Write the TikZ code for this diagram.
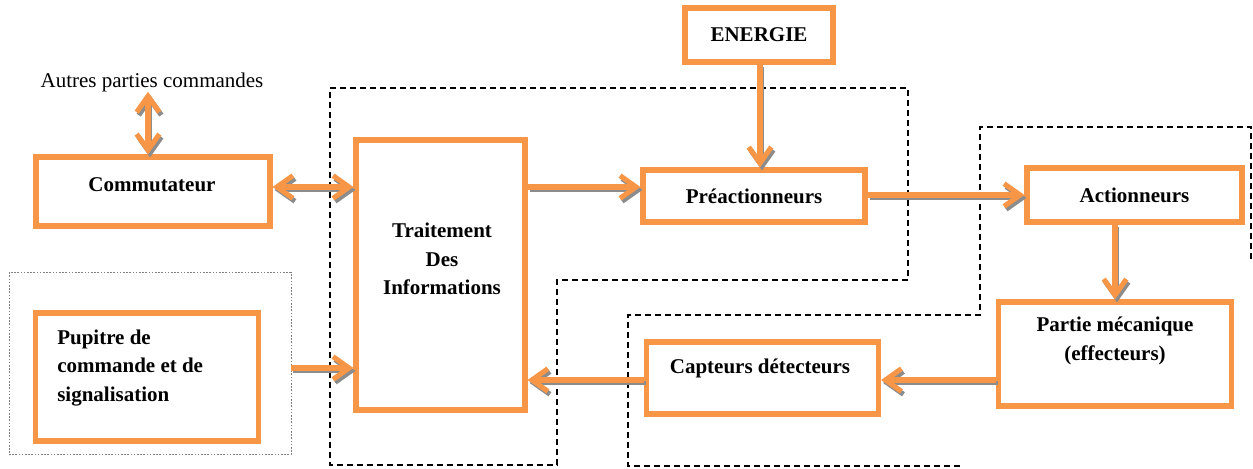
\documentclass[tikz,border=0pt]{standalone}
\usepackage{fontspec}
\setmainfont{Liberation Serif}
\usetikzlibrary{arrows.meta,calc}
\definecolor{orng}{HTML}{F79646}
\definecolor{shd}{HTML}{8C8C8C}
\begin{document}
\begin{tikzpicture}[x=0.75pt,y=-0.75pt,
  box/.style={draw=orng, line width=3.8pt, fill=white, inner sep=0pt, font=\fontsize{15.75}{21}\selectfont\bfseries},
  lbl/.style={inner sep=0pt, font=\fontsize{15.75}{21.5}\selectfont\bfseries, align=center},
  arr/.style={draw=orng, line width=3.8pt, -{Straight Barb[length=12pt,width=17pt,line width=3.8pt]},
    preaction={draw=shd, line width=3pt, transform canvas={shift={(1.5pt,-2.2pt)}}}},
  darr/.style={arr, {Straight Barb[length=12pt,width=17pt,line width=3.8pt]}-{Straight Barb[length=12pt,width=17pt,line width=3.8pt]}},
  zone/.style={draw=black, line width=1.1pt, dash pattern=on 4.5pt off 3pt},
  dotbox/.style={draw=gray, line width=0.6pt, dash pattern=on 1.2pt off 1.2pt, inner sep=0pt}
]
\useasboundingbox (0,0) rectangle (1253,468);
% dashed zones
\draw[zone] (330,88) -- (908,88) -- (908,280) -- (557,280) -- (557,465) -- (330,465) -- cycle;
\draw[zone] (960,466) -- (628,466) -- (628,315) -- (980,315) -- (980,127) -- (1251,127) -- (1251,262);
% dotted frame
\node[dotbox, minimum width=211.5pt, minimum height=136.5pt] (frame) at (150,363.5) {};
% boxes
\node[box, minimum width=175.5pt, minimum height=51.75pt] (comm) at (153,191.5) {};
\node[lbl] at (152,185) {Commutateur};
\node[box, minimum width=126.75pt, minimum height=202.5pt] (trait) at (440.5,275) {};
\node[lbl] at (442,259) {Traitement\\Des\\Informations};
\node[box, minimum width=166.5pt, minimum height=39pt] (preact) at (754,196) {Préactionneurs};
\node[box, minimum width=111pt, minimum height=40.5pt] (energie) at (759,35) {ENERGIE};
\node[box, minimum width=161.25pt, minimum height=40.5pt] (act) at (1134.5,195) {Actionneurs};
\node[box, minimum width=174.75pt, minimum height=78pt] (partie) at (1115,354) {};
\node[lbl] at (1115,341) {Partie mécanique\\(effecteurs)};
\node[box, minimum width=174pt, minimum height=54pt] (capt) at (762.5,378) {};
\node[lbl] at (760,368) {Capteurs détecteurs};
\node[box, minimum width=167pt, minimum height=96pt] (pup) at (147,377) {};
\node[lbl, align=left, anchor=west] at (57,368) {Pupitre de\\commande et de\\signalisation};
\node[inner sep=0pt, font=\fontsize{15.75}{19}\selectfont] (autres) at (152,82) {Autres parties commandes};
% connectors
\draw[darr] (autres.south -| 148,0) -- (comm.north -| 148,0);
\draw[darr] (comm.east |- 0,187) -- (trait.west |- 0,187);
\draw[arr] (trait.east |- 0,187) -- (preact.west |- 0,187);
\draw[arr] (energie.south -| 760,0) -- (preact.north -| 760,0);
\draw[arr] (preact.east |- 0,195) -- (act.west |- 0,195);
\draw[arr] (act.south -| 1115,0) -- (partie.north -| 1115,0);
\draw[arr] (partie.west |- 0,380) -- (capt.east |- 0,380);
\draw[arr] (capt.west |- 0,380) -- (trait.east |- 0,380);
\draw[arr] (frame.east |- 0,368) -- (trait.west |- 0,368);
\end{tikzpicture}
\end{document}
